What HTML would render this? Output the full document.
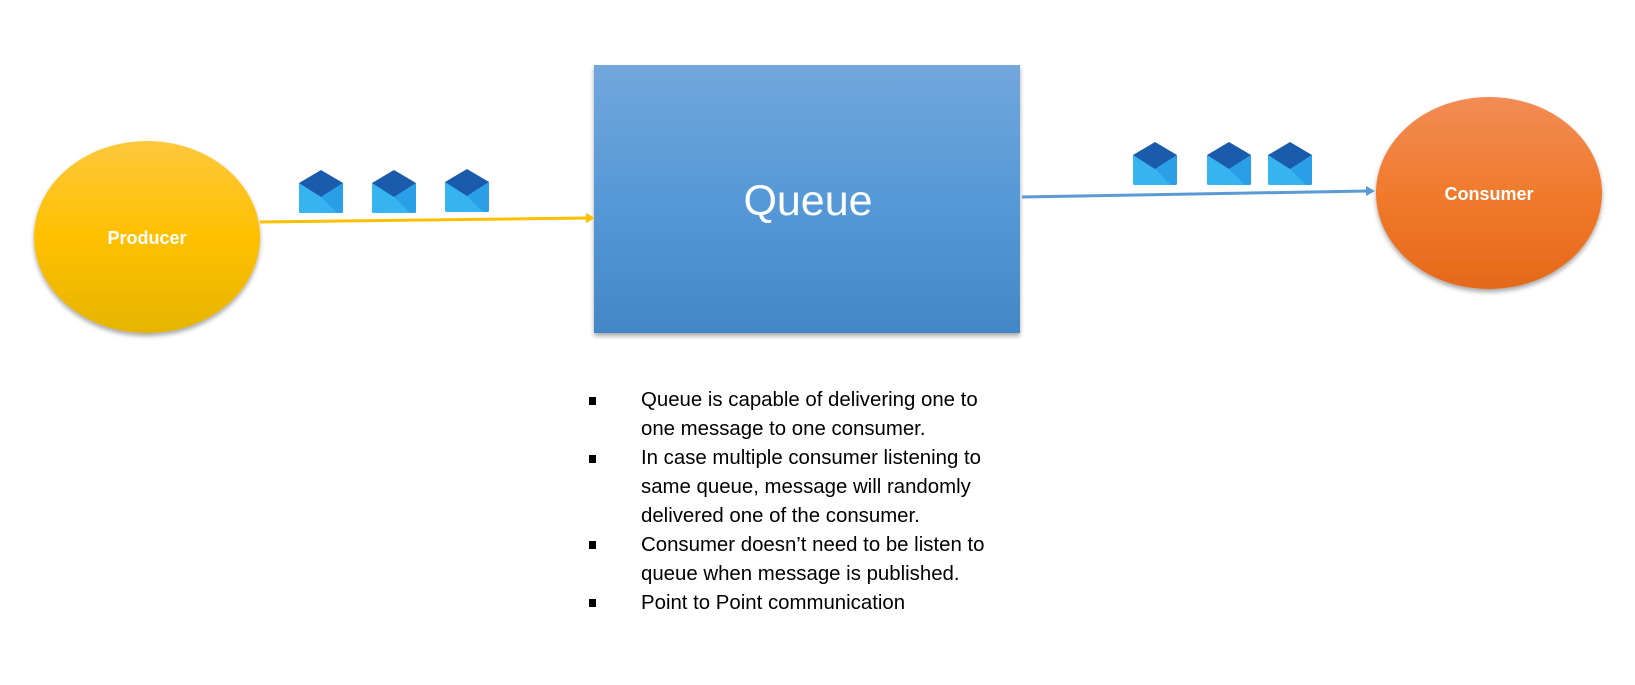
<!DOCTYPE html>
<html><head><meta charset="utf-8"><style>
html,body{margin:0;padding:0;background:#fff;width:1635px;height:685px;overflow:hidden}
svg{position:absolute;left:0;top:0}
.t{position:absolute;left:641px;font-family:"Liberation Sans",sans-serif;font-size:20.4px;color:#000;white-space:nowrap;line-height:29px}
.b{position:absolute;left:589px;width:7px;height:8px;background:#000}
</style></head><body>
<svg width="1635" height="685" viewBox="0 0 1635 685">
<defs>
<linearGradient id="gy" x1="0" y1="0" x2="0" y2="1"><stop offset="0" stop-color="#ffc83d"/><stop offset="0.5" stop-color="#ffc000"/><stop offset="1" stop-color="#e6b400"/></linearGradient>
<linearGradient id="go" x1="0" y1="0" x2="0" y2="1"><stop offset="0" stop-color="#f28c55"/><stop offset="0.5" stop-color="#f07a2c"/><stop offset="1" stop-color="#e5691a"/></linearGradient>
<linearGradient id="gb" x1="0" y1="0" x2="0" y2="1"><stop offset="0" stop-color="#72a7dc"/><stop offset="0.5" stop-color="#5699d8"/><stop offset="1" stop-color="#4387c7"/></linearGradient>
<filter id="sh" x="-10%" y="-10%" width="120%" height="125%"><feDropShadow dx="0" dy="3" stdDeviation="2.5" flood-color="#000" flood-opacity="0.35"/></filter>
<g id="env">
<path d="M2 14 L24 1 L46 14 L46 42 Q46 44 44 44 L4 44 Q2 44 2 42 Z" fill="#1a5bab"/>
<path d="M2 14 L24 28 L46 14 L46 42 Q46 44 44 44 L4 44 Q2 44 2 42 Z" fill="#36b4f0"/>
<path d="M24 28 L46 14 L46 42 Q46 44 44 44 L40 44 Z" fill="#2a9ee6"/>
</g>
</defs>
<rect x="594" y="65" width="426" height="268" fill="url(#gb)" filter="url(#sh)"/>
<text x="808" y="215" text-anchor="middle" font-family="Liberation Sans,sans-serif" font-size="43" fill="#fff">Queue</text>
<ellipse cx="147" cy="237" rx="113" ry="96" fill="url(#gy)" filter="url(#sh)"/>
<text x="147" y="244" text-anchor="middle" font-family="Liberation Sans,sans-serif" font-weight="bold" font-size="18" fill="#fff">Producer</text>
<ellipse cx="1489" cy="193" rx="113" ry="96" fill="url(#go)" filter="url(#sh)"/>
<text x="1489" y="200" text-anchor="middle" font-family="Liberation Sans,sans-serif" font-weight="bold" font-size="18" fill="#fff">Consumer</text>
<line x1="260" y1="222" x2="588" y2="218" stroke="#ffc000" stroke-width="3"/>
<path d="M586 213 L595 218 L586 223 Z" fill="#ffc000"/>
<line x1="1022" y1="197" x2="1368" y2="191" stroke="#5b9bd5" stroke-width="3"/>
<path d="M1366 186 L1375 191 L1366 196 Z" fill="#5b9bd5"/>
<use href="#env" x="297" y="169"/>
<use href="#env" x="370" y="169"/>
<use href="#env" x="443" y="168"/>
<use href="#env" x="1131" y="141"/>
<use href="#env" x="1205" y="141"/>
<use href="#env" x="1266" y="141"/>
</svg>
<div class="b" style="top:397px"></div>
<div class="b" style="top:455px"></div>
<div class="b" style="top:541px"></div>
<div class="b" style="top:599px"></div>
<div class="t" style="top:386px">Queue is capable of delivering one to<br>one message to one consumer.<br>In case multiple consumer listening to<br>same queue, message will randomly<br>delivered one of the consumer.<br>Consumer doesn’t need to be listen to<br>queue when message is published.<br>Point to Point communication</div>
</body></html>
